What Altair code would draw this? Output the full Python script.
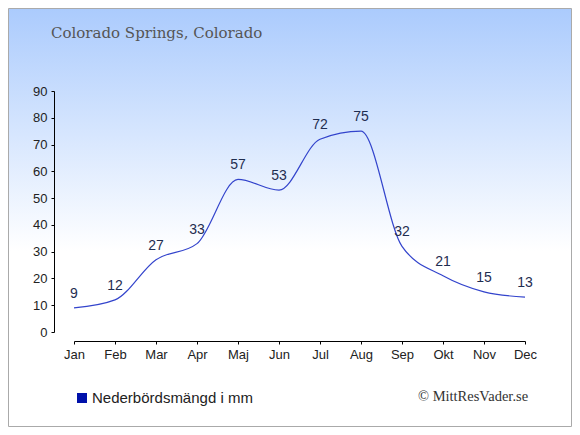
import altair as alt
import pandas as pd

months = ["Jan", "Feb", "Mar", "Apr", "Maj", "Jun", "Jul", "Aug", "Sep", "Okt", "Nov", "Dec"]
values = [9, 12, 27, 33, 57, 53, 72, 75, 32, 21, 15, 13]
title_text = "Colorado Springs, Colorado"
legend_text = "Nederbördsmängd i mm"
credit_text = "© MittResVader.se"

df = pd.DataFrame({"month": months, "value": values})

x_axis = alt.Axis(labelAngle=0, offset=9, tickSize=3, labelPadding=4, zindex=2,
                  labelFont="Liberation Sans", labelFontSize=13, labelColor="#222222",
                  domainColor="#000000", tickColor="#000000")
y_axis = alt.Axis(values=list(range(0, 91, 10)), offset=20, tickSize=3, labelPadding=4,
                  grid=False, zindex=2,
                  labelFont="Liberation Sans", labelFontSize=13, labelColor="#222222",
                  domainColor="#000000", tickColor="#000000")

x_enc = alt.X("month:O", sort=months, title=None,
              scale=alt.Scale(type="point", padding=0), axis=x_axis)
y_enc = alt.Y("value:Q", title=None,
              scale=alt.Scale(domain=[0, 90], nice=False), axis=y_axis)

gradient = {
    "gradient": "linear",
    "x1": 0, "x2": 0, "y1": 0, "y2": 1,
    "stops": [
        {"offset": 0, "color": "#abcbfd"},
        {"offset": 0.58, "color": "#ffffff"},
        {"offset": 1, "color": "#ffffff"},
    ],
}

one = pd.DataFrame({"k": [0]})

bg = alt.Chart(one).mark_rect(color=gradient, stroke="#aaaaaa", strokeWidth=1).encode(
    x=alt.value(-65.5), x2=alt.value(497.5), y=alt.value(-82.5), y2=alt.value(335.5)
)

line = alt.Chart(df).mark_line(interpolate="monotone", color="#3344cc", strokeWidth=1.2).encode(
    x=x_enc, y=y_enc
)

labels = alt.Chart(df).mark_text(dy=-14, fontSize=14, font="Liberation Sans",
                                 color="#1f2d50", baseline="middle").encode(
    x=x_enc, y=y_enc, text="value:Q"
)

title = alt.Chart(pd.DataFrame({"t": [title_text]})).mark_text(
    align="left", baseline="alphabetic", font="DejaVu Serif", fontSize=15, color="#555555"
).encode(text="t:N", x=alt.value(-23), y=alt.value(-53))

legend_sq = alt.Chart(one).mark_rect(color="#0011aa").encode(
    x=alt.value(3), x2=alt.value(13), y=alt.value(302), y2=alt.value(312)
)

legend_lbl = alt.Chart(pd.DataFrame({"t": [legend_text]})).mark_text(
    align="left", baseline="middle", font="Liberation Sans", fontSize=15, color="#222222"
).encode(text="t:N", x=alt.value(18), y=alt.value(307))

credit = alt.Chart(pd.DataFrame({"t": [credit_text]})).mark_text(
    align="left", baseline="middle", font="Liberation Serif", fontSize=14.5, color="#333333"
).encode(text="t:N", x=alt.value(344), y=alt.value(306))

chart = alt.layer(bg, line, labels, title, legend_sq, legend_lbl, credit).properties(
    width=451, height=241, autosize="none",
    padding={"left": 66, "top": 83, "right": 47, "bottom": 95},
).configure_view(stroke=None).configure(background="#ffffff")

chart.save("out.html", embed_options={"renderer": "svg", "actions": False})
